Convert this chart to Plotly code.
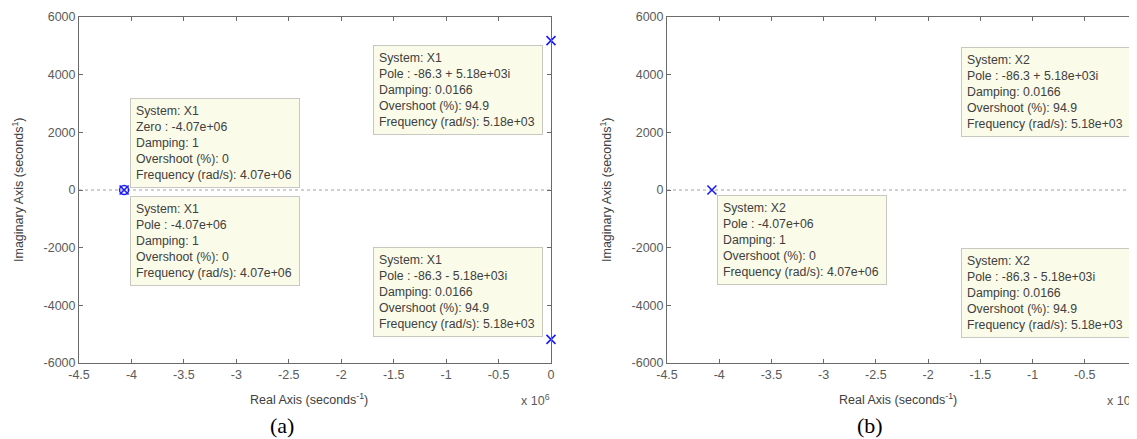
import plotly.graph_objects as go

# ---------------- data ----------------
sys1_zero_re = [-4.07e6]
sys1_zero_im = [0]
sys1_pole_re = [-4.07e6, -86.3, -86.3]
sys1_pole_im = [0, 5180, -5180]
sys2_pole_re = [-4.07e6, -86.3, -86.3]
sys2_pole_im = [0, 5180, -5180]

x_tickvals = [-4.5e6, -4e6, -3.5e6, -3e6, -2.5e6, -2e6, -1.5e6, -1e6, -0.5e6, 0]
x_ticktext = ["-4.5", "-4", "-3.5", "-3", "-2.5", "-2", "-1.5", "-1", "-0.5", "0"]
y_tickvals = [-6000, -4000, -2000, 0, 2000, 4000, 6000]
y_ticktext = ["-6000", "-4000", "-2000", "0", "2000", "4000", "6000"]

tip_zero_1 = ["System: X1", "Zero : -4.07e+06", "Damping: 1", "Overshoot (%): 0", "Frequency (rad/s): 4.07e+06"]
tip_pole_real_1 = ["System: X1", "Pole : -4.07e+06", "Damping: 1", "Overshoot (%): 0", "Frequency (rad/s): 4.07e+06"]
tip_pole_up_1 = ["System: X1", "Pole : -86.3 + 5.18e+03i", "Damping: 0.0166", "Overshoot (%): 94.9", "Frequency (rad/s): 5.18e+03"]
tip_pole_dn_1 = ["System: X1", "Pole : -86.3 - 5.18e+03i", "Damping: 0.0166", "Overshoot (%): 94.9", "Frequency (rad/s): 5.18e+03"]
tip_pole_real_2 = ["System: X2", "Pole : -4.07e+06", "Damping: 1", "Overshoot (%): 0", "Frequency (rad/s): 4.07e+06"]
tip_pole_up_2 = ["System: X2", "Pole : -86.3 + 5.18e+03i", "Damping: 0.0166", "Overshoot (%): 94.9", "Frequency (rad/s): 5.18e+03"]
tip_pole_dn_2 = ["System: X2", "Pole : -86.3 - 5.18e+03i", "Damping: 0.0166", "Overshoot (%): 94.9", "Frequency (rad/s): 5.18e+03"]

captions = ["(a)", "(b)"]

# ---------------- layout helpers ----------------
# the page body has an 8px margin, so the figure is offset by 8px
OFF = 8
W, H = 1137 - OFF, 439 - OFF
def px(x):
    return (x - OFF) / W
def py(y):
    return 1 - (y - OFF) / H

BLUE = "#1a1aff"
AXC = "#6a6a6a"
TXT = "#5a5a5a"
FONT = "Liberation Sans, Arial, sans-serif"

fig = go.Figure()

# system 1
fig.add_trace(go.Scatter(x=sys1_zero_re, y=sys1_zero_im, mode="markers",
                         marker=dict(symbol="circle-open", size=9, color=BLUE, line=dict(width=1.5, color=BLUE)),
                         cliponaxis=False, showlegend=False, xaxis="x", yaxis="y", hoverinfo="skip"))
fig.add_trace(go.Scatter(x=sys1_pole_re, y=sys1_pole_im, mode="markers",
                         marker=dict(symbol="x-thin-open", size=9, color=BLUE, line=dict(width=1.6, color=BLUE)),
                         cliponaxis=False, showlegend=False, xaxis="x", yaxis="y", hoverinfo="skip"))
# system 2
fig.add_trace(go.Scatter(x=sys2_pole_re, y=sys2_pole_im, mode="markers",
                         marker=dict(symbol="x-thin-open", size=9, color=BLUE, line=dict(width=1.6, color=BLUE)),
                         cliponaxis=False, showlegend=False, xaxis="x2", yaxis="y2", hoverinfo="skip"))

xdom1 = [px(79), px(551)]
xdom2 = [px(667), 1.0]
ydom = [py(363), py(17)]

def xax(dom, anchor):
    return dict(domain=dom, anchor=anchor, range=[-4.5e6, 0], tickmode="array", automargin=False,
                tickvals=x_tickvals, ticktext=x_ticktext, ticks="inside", ticklen=4,
                tickcolor=AXC, showline=True, linecolor=AXC, linewidth=1, mirror="ticks",
                showgrid=False, zeroline=False, tickfont=dict(family=FONT, size=12.5, color=TXT))

def yax(dom, anchor):
    return dict(domain=dom, anchor=anchor, range=[-6000, 6000], tickmode="array", automargin=False,
                tickvals=y_tickvals, ticktext=y_ticktext, ticks="inside", ticklen=4,
                tickcolor=AXC, showline=True, linecolor=AXC, linewidth=1, mirror="ticks",
                showgrid=False, zeroline=False, tickfont=dict(family=FONT, size=12.5, color=TXT))

fig.update_layout(
    template="none",
    width=W, height=H, margin=dict(l=0, r=0, t=0, b=0, pad=0),
    paper_bgcolor="white", plot_bgcolor="white",
    xaxis=xax(xdom1, "y"), yaxis=yax(ydom, "x"),
    xaxis2=xax(xdom2, "y2"), yaxis2=yax(ydom, "x2"),
)

# dotted zero lines
for xr, yr in [("x domain", "y"), ("x2 domain", "y2")]:
    fig.add_shape(type="line", xref=xr, yref=yr, x0=0, x1=1, y0=0, y1=0,
                  line=dict(color="#a0a0a0", width=1, dash="dot"), layer="below")

# data tips
def tip(lines, left, top):
    fig.add_annotation(xref="paper", yref="paper", x=px(left), y=py(top),
                       xanchor="left", yanchor="top", align="left", showarrow=False,
                       text="<br>".join(lines), width=158, borderpad=5,
                       bgcolor="#fbfbe9", bordercolor="#c8c8c0", borderwidth=1,
                       font=dict(family=FONT, size=12.3, color="#404040"))

tip(tip_zero_1, 130, 98)
tip(tip_pole_real_1, 130, 196)
tip(tip_pole_up_1, 373, 45)
tip(tip_pole_dn_1, 373, 247)
tip(tip_pole_real_2, 717, 195)
tip(tip_pole_up_2, 961, 47)
tip(tip_pole_dn_2, 961, 248)

# axis titles and exponent labels
for cx, ex, yx in [(309, 519, 18), (898, 1105, 606)]:
    fig.add_annotation(xref="paper", yref="paper", x=px(cx), y=py(399), showarrow=False,
                       text="Real Axis (seconds<sup>-1</sup>)", xanchor="center", yanchor="middle",
                       font=dict(family=FONT, size=12.5, color="#404040"))
    fig.add_annotation(xref="paper", yref="paper", x=px(ex), y=py(400), showarrow=False,
                       text="x 10<sup>6</sup>", xanchor="left", yanchor="middle",
                       font=dict(family=FONT, size=12.5, color=TXT))
    fig.add_annotation(xref="paper", yref="paper", x=px(yx), y=py(190), showarrow=False,
                       text="Imaginary Axis (seconds<sup>1</sup>)", textangle=-90,
                       xanchor="center", yanchor="middle",
                       font=dict(family=FONT, size=12.5, color="#404040"))

# captions
for cap, cx in zip(captions, [282, 870]):
    fig.add_annotation(xref="paper", yref="paper", x=px(cx), y=py(425), showarrow=False,
                       text=cap, xanchor="center", yanchor="middle",
                       font=dict(family="Liberation Serif, Times New Roman, serif", size=22, color="black"))

fig.write_html("out.html")
